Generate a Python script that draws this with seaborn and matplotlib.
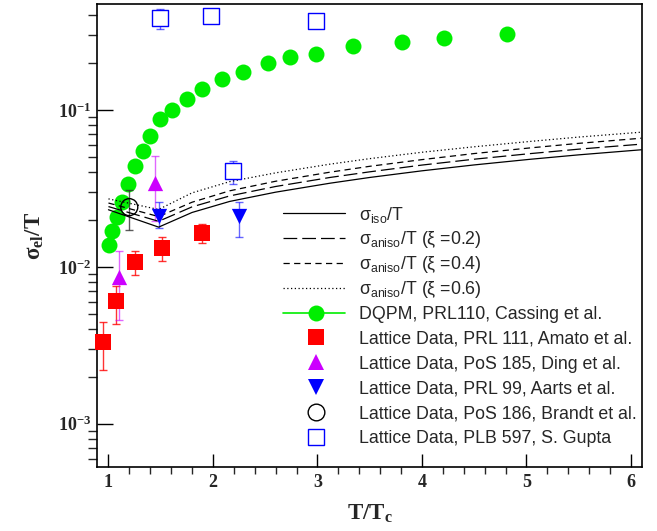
import math
import matplotlib
matplotlib.use('Agg')
import matplotlib.pyplot as plt
import pandas as pd
import seaborn as sns
from matplotlib.ticker import FixedLocator, LogLocator, NullFormatter, FuncFormatter

# model curves sigma_el/T vs T/Tc
curve_x = [1.0, 1.48, 1.8, 2.16, 2.6, 3.12, 3.5, 4.0, 4.5, 5.03, 5.5, 6.1]
iso = [0.0231, 0.0179, 0.0222, 0.0261, 0.0299, 0.0341, 0.0371, 0.0409, 0.0446, 0.0484, 0.0517, 0.0557]
aniso_02 = [0.0242, 0.0195, 0.0241, 0.0283, 0.0325, 0.0371, 0.0403, 0.0445, 0.0485, 0.0526, 0.0562, 0.0605]
aniso_04 = [0.0255, 0.0209, 0.0258, 0.0305, 0.0351, 0.0401, 0.0437, 0.0482, 0.0527, 0.0572, 0.0612, 0.0660]
aniso_06 = [0.0271, 0.0232, 0.0296, 0.0349, 0.0397, 0.0451, 0.0489, 0.0537, 0.0582, 0.0629, 0.0671, 0.0721]

# DQPM, Cassing et al.
dqpm_x = [1.005, 1.036, 1.078, 1.129, 1.184, 1.256, 1.327, 1.394, 1.49, 1.611, 1.748,
          1.892, 2.086, 2.287, 2.523, 2.734, 2.99, 3.337, 3.809, 4.211, 4.813]
dqpm_y = [0.0138, 0.0170, 0.0207, 0.0259, 0.0336, 0.0436, 0.0546, 0.0686, 0.0877, 0.0996, 0.118,
          0.1355, 0.158, 0.175, 0.198, 0.217, 0.228, 0.257, 0.272, 0.289, 0.305]

# lattice data: value, lower and upper end of error bar
amato_x = [0.945, 1.075, 1.254, 1.515, 1.898]
amato_y = [0.0033, 0.00607, 0.01077, 0.01315, 0.01648]
amato_lo = [0.0022, 0.00431, 0.00885, 0.0109, 0.0142]
amato_hi = [0.00442, 0.00757, 0.0127, 0.01545, 0.0188]

ding_x = [1.10, 1.445]
ding_y = [0.00859, 0.0344]
ding_lo = [0.00457, 0.0195]
ding_hi = [0.0127, 0.0510]

aarts_x = [1.48, 2.249]
aarts_y = [0.0211, 0.0212]
aarts_lo = [0.0177, 0.0155]
aarts_hi = [0.0258, 0.0257]

brandt_x = [1.199]
brandt_y = [0.0240]
brandt_lo = [0.0172]
brandt_hi = [0.0309]

gupta_x = [1.49, 1.981, 2.194, 2.989]
gupta_y = [0.384, 0.397, 0.0408, 0.371]
gupta_lo = [0.328, 0.397, 0.0336, 0.371]
gupta_hi = [0.4375, 0.397, 0.0473, 0.371]

labels = [r'$\mathregular{\sigma_{iso}}$/T',
          r'$\mathregular{\sigma_{aniso}}$/T (ξ =0.2)',
          r'$\mathregular{\sigma_{aniso}}$/T (ξ =0.4)',
          r'$\mathregular{\sigma_{aniso}}$/T (ξ =0.6)',
          'DQPM, PRL110, Cassing et al.',
          'Lattice Data, PRL 111, Amato et al.',
          'Lattice Data, PoS 185, Ding et al.',
          'Lattice Data, PRL 99, Aarts et al.',
          'Lattice Data, PoS 186, Brandt et al.',
          'Lattice Data, PLB 597, S. Gupta']

GREEN = '#00ee00'
RED = '#ff0000'
MAGENTA = '#cc00ff'
BLUE = '#0000ff'

sns.set_style('ticks')
plt.rcParams['font.family'] = ['Liberation Serif', 'DejaVu Serif']

fig = plt.figure(figsize=(6.57, 5.31), dpi=100)
ax = fig.add_axes([0.1476, 0.1205, 0.8294, 0.872])
ax.set_yscale('log')

# curves
n = len(curve_x)
df_curves = pd.DataFrame({
    'x': curve_x * 4,
    'y': iso + aniso_02 + aniso_04 + aniso_06,
    'curve': ['iso'] * n + ['a02'] * n + ['a04'] * n + ['a06'] * n,
})
dash_map = {'iso': '', 'a02': (11, 4), 'a04': (5, 3.5), 'a06': (1, 2)}
sns.lineplot(data=df_curves, x='x', y='y', style='curve', dashes=dash_map,
             color='black', lw=0.9, legend=False, sort=False, estimator=None,
             ax=ax, zorder=4)


def err(ax, x, y, lo, hi, color, alpha=0.7):
    yerr = [[v - l for v, l in zip(y, lo)], [h - v for v, h in zip(y, hi)]]
    ax.errorbar(x, y, yerr=yerr, fmt='none', ecolor=color, alpha=alpha,
                elinewidth=1.0, capsize=3, capthick=1.0, zorder=3, clip_on=False)


# DQPM
sns.scatterplot(x=dqpm_x, y=dqpm_y, marker='o', s=132, color=GREEN, linewidth=0,
                ax=ax, zorder=2, clip_on=False)

err(ax, amato_x, amato_y, amato_lo, amato_hi, RED, 0.8)
sns.scatterplot(x=amato_x, y=amato_y, marker='s', s=125, color=RED, linewidth=0,
                ax=ax, zorder=5, clip_on=False)

err(ax, ding_x, ding_y, ding_lo, ding_hi, MAGENTA, 0.6)
sns.scatterplot(x=ding_x, y=ding_y, marker='^', s=121, color=MAGENTA, linewidth=0,
                ax=ax, zorder=5, clip_on=False)

err(ax, aarts_x, aarts_y, aarts_lo, aarts_hi, BLUE, 0.6)
sns.scatterplot(x=aarts_x, y=aarts_y, marker='v', s=121, color=BLUE, linewidth=0,
                ax=ax, zorder=6, clip_on=False)

err(ax, brandt_x, brandt_y, brandt_lo, brandt_hi, '#333333', 0.8)
sns.scatterplot(x=brandt_x, y=brandt_y, marker='o', s=150, facecolor='none',
                edgecolor='black', linewidth=1.0, ax=ax, zorder=6)

err(ax, gupta_x, gupta_y, gupta_lo, gupta_hi, BLUE, 0.6)
sns.scatterplot(x=gupta_x, y=gupta_y, marker='s', s=130, facecolor='white',
                edgecolor=BLUE, linewidth=1.0, ax=ax, zorder=6, clip_on=False)

ax.set_xlim(0.89, 6.105)
ax.set_ylim(5.3e-4, 0.473)

# axes and ticks
ax.xaxis.set_major_locator(FixedLocator([1, 2, 3, 4, 5, 6]))
ax.xaxis.set_minor_locator(FixedLocator([1 + 0.2 * i for i in range(26) if i % 5]))
ax.yaxis.set_major_locator(FixedLocator([1e-3, 1e-2, 1e-1]))
ax.yaxis.set_minor_locator(LogLocator(base=10, subs=range(2, 10)))
ax.yaxis.set_minor_formatter(NullFormatter())
ax.yaxis.set_major_formatter(FuncFormatter(
    lambda v, p: r'$\mathregular{10^{%d}}$' % round(math.log10(v))))
ax.xaxis.set_major_formatter(FuncFormatter(lambda v, p: '%d' % v))

ax.tick_params(axis='both', direction='in', top=False, right=False, color='black',
               labelsize=13, width=1.0)
ax.tick_params(axis='y', which='major', length=11.5, pad=4)
ax.tick_params(axis='y', which='minor', length=6.2, width=1.0)
ax.tick_params(axis='x', which='major', length=9.4, pad=5)
ax.tick_params(axis='x', which='minor', length=5, width=1.0)
for lab in ax.get_xticklabels() + ax.get_yticklabels():
    lab.set_fontweight('bold')
for sp in ax.spines.values():
    sp.set_color('black')
    sp.set_linewidth(1.2)

ax.set_xlabel(r'T/$\mathregular{T_c}$', fontsize=16.5, fontweight='bold')
ax.set_ylabel(r'$\mathregular{\sigma_{el}}$/T', fontsize=16.5, fontweight='bold')
ax.xaxis.set_label_coords(0.5, -0.077)
ax.yaxis.set_label_coords(-0.094, 0.5)

# legend, drawn row by row so every row has the same height
line_styles = [
    dict(color='black', lw=0.9),
    dict(color='black', lw=0.9, dashes=(11, 4)),
    dict(color='black', lw=0.9, dashes=(5, 3.5)),
    dict(color='black', lw=0.9, dashes=(1, 2)),
    dict(color=GREEN, lw=1.2),
]
marker_styles = [
    None, None, None, None,
    dict(marker='o', ms=11.5, color=GREEN, mew=0),
    dict(marker='s', ms=11.2, color=RED, mew=0),
    dict(marker='^', ms=11, color=MAGENTA, mew=0),
    dict(marker='v', ms=11, color=BLUE, mew=0),
    dict(marker='o', ms=12, mfc='none', mec='black', mew=1.0),
    dict(marker='s', ms=11.4, mfc='white', mec=BLUE, mew=1.0),
]
ax_w, ax_h = 544.9, 463.0
x0_line, x1_line = (283 - 97) / ax_w, (345 - 97) / ax_w
x_mark, x_text = (316 - 97) / ax_w, (359 - 97) / ax_w
for i, lab in enumerate(labels):
    yc = 213.3 + 24.82 * i
    fy = (467 - yc) / ax_h
    if i < len(line_styles):
        ax.plot([x0_line, x1_line], [fy, fy], transform=ax.transAxes,
                clip_on=False, zorder=7, **line_styles[i])
    if marker_styles[i] is not None:
        ax.plot([x_mark], [fy], transform=ax.transAxes, ls='none',
                clip_on=False, zorder=8, **marker_styles[i])
    ax.text(x_text, (467 - yc - 6.3) / ax_h, lab, transform=ax.transAxes,
            family='Liberation Sans', fontsize=12.8, va='baseline', ha='left')

fig.savefig('out.png', dpi=100)
